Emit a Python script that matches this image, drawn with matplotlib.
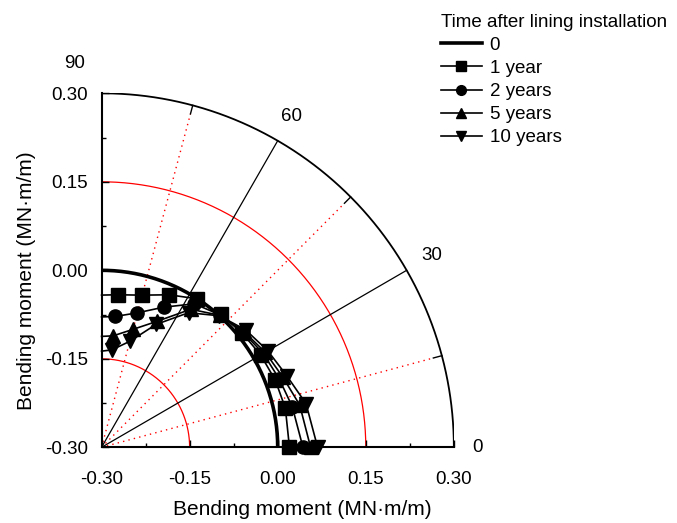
import numpy as np
import matplotlib.pyplot as plt
from matplotlib.lines import Line2D

plt.rcParams['font.family'] = ['Liberation Sans', 'DejaVu Sans']

# angle along the lining (deg) and bending moment (MN.m/m) for each time
angles = [90, 84, 75, 66, 57, 48, 39, 30, 21, 12, 0]
m_1yr = [-0.042, -0.040, -0.033, -0.017, 0.000, 0.003, 0.008, 0.013, 0.017, 0.020, 0.020]
m_2yr = [-0.079, -0.077, -0.064, -0.040, -0.010, 0.002, 0.010, 0.018, 0.024, 0.032, 0.043]
m_5yr = [-0.112, -0.110, -0.093, -0.066, -0.021, 0.001, 0.012, 0.022, 0.031, 0.045, 0.056]
m_10yr = [-0.137, -0.134, -0.114, -0.072, -0.028, 0.000, 0.016, 0.027, 0.038, 0.056, 0.068]

labels = ['1 year', '2 years', '5 years', '10 years']
markers = ['s', 'o', '^', 'v']
series = [m_1yr, m_2yr, m_5yr, m_10yr]

offset = 0.30     # moment 0 sits at this radius from the corner
r_outer = 0.60
ticks = [-0.30, -0.15, 0.00, 0.15, 0.30]
fs = 13.5


def to_xy(r, deg):
    t = np.radians(deg)
    return -0.30 + r * np.cos(t), -0.30 + r * np.sin(t)


fig = plt.figure(figsize=(6.77, 5.23), dpi=100)
ax = fig.add_axes([0.150, 0.1447, 0.5204, 0.6769])

th = np.linspace(0, 90, 200)
# grid arcs
for r in [0.15, 0.45]:
    ax.plot(*to_xy(r, th), color='red', lw=0.9, zorder=1)
ax.plot(*to_xy(r_outer, th), color='black', lw=1.3, zorder=2)

# radial lines
for a in [30, 60]:
    ax.plot(*to_xy(np.array([0, r_outer]), a), color='black', lw=0.9, zorder=1)
for a in [15, 45, 75]:
    ax.plot(*to_xy(np.array([0, 0.585]), a), color='red', lw=1.0, ls=(0, (1, 3)), zorder=1)
    ax.plot(*to_xy(np.array([0.585, r_outer]), a), color='black', lw=1.0, zorder=2)

# angle labels
ax.text(-0.346, 0.350, '90', fontsize=fs, ha='center', va='center', clip_on=False)
for a, rr in [(60, 0.648), (30, 0.65), (0, 0.64)]:
    x, y = to_xy(rr, a)
    ax.text(x, y, str(a), fontsize=fs, ha='center', va='center', clip_on=False)

# data
ax.plot(*to_xy(offset, th), color='black', lw=2.6, zorder=3)
for vals, mk in zip(series, markers):
    r = offset + np.array(vals)
    ax.plot(*to_xy(r, np.array(angles)), color='black', lw=1.2, marker=mk, ms=9.5,
            markevery=list(range(1, len(angles))), clip_on=False, zorder=4)

ax.set_xlim(-0.30, 0.30)
ax.set_ylim(-0.30, 0.30)
ax.set_xticks(ticks)
ax.set_yticks(ticks)
ax.set_xticks(np.arange(-0.225, 0.3, 0.15), minor=True)
ax.set_yticks(np.arange(-0.225, 0.3, 0.15), minor=True)
ax.xaxis.set_major_formatter(plt.FormatStrFormatter('%.2f'))
ax.yaxis.set_major_formatter(plt.FormatStrFormatter('%.2f'))
ax.tick_params(which='both', direction='in', labelsize=fs, width=1.0)
ax.tick_params(which='major', length=5, pad=10)
ax.tick_params(axis='x', which='major', pad=17)
ax.tick_params(which='minor', length=3)
ax.spines['top'].set_visible(False)
ax.spines['right'].set_visible(False)
ax.spines['left'].set_linewidth(1.5)
ax.spines['bottom'].set_linewidth(1.5)
ax.set_xlabel('Bending moment (MN·m/m)', fontsize=15, va='center')
ax.set_ylabel('Bending moment (MN·m/m)', fontsize=15, va='center')
ax.xaxis.set_label_coords(0.571, -0.177)
ax.yaxis.set_label_coords(-0.212, 0.47)

handles = [Line2D([], [], color='black', lw=2.6)]
for mk in markers:
    handles.append(Line2D([], [], color='black', lw=1.2, marker=mk, ms=7))
leg = fig.legend(handles, ['0'] + labels, title='Time after lining installation',
                 loc='upper left', bbox_to_anchor=(0.640, 0.988), frameon=False,
                 fontsize=fs, title_fontsize=fs, handlelength=2.2,
                 handletextpad=0.4, labelspacing=0.32, borderaxespad=0)
leg._legend_box.align = 'left'

fig.savefig('out.png', dpi=100)
